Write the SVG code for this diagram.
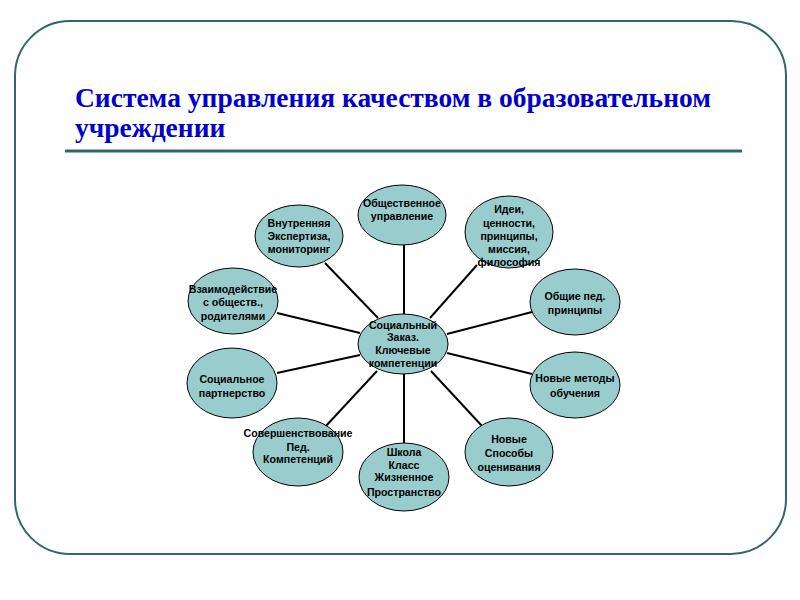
<svg xmlns="http://www.w3.org/2000/svg" width="800" height="600" viewBox="0 0 800 600">
<style>
.frame{fill:none;stroke:#336666;stroke-width:2}
.rule{stroke:#336666;stroke-width:3}
.title{font-family:"Liberation Serif","Times New Roman",serif;font-weight:bold;font-size:27.5px;fill:#0000CC}
.node ellipse{fill:#99CCCC;stroke:#000;stroke-width:1}
.node text{font-family:"Liberation Sans",Arial,sans-serif;font-weight:bold;font-size:10.6px;fill:#000;text-anchor:middle}
#connectors line{stroke:#000;stroke-width:2}
</style>
<rect width="800" height="600" fill="#fff"/>
<rect class="frame" x="15" y="21" width="771" height="533" rx="55" ry="55"/>
<text class="title" x="75" y="107">Система управления качеством в образовательном</text>
<text class="title" x="75" y="137">учреждении</text>
<line class="rule" x1="65" y1="151" x2="742" y2="151"/>
<g id="connectors">
<line x1="404" y1="245" x2="404" y2="315"/>
<line x1="325" y1="263" x2="378" y2="318"/>
<line x1="277" y1="313" x2="360" y2="333"/>
<line x1="477" y1="265" x2="430" y2="318"/>
<line x1="532" y1="312" x2="447" y2="334"/>
<line x1="277" y1="373" x2="360" y2="355"/>
<line x1="325" y1="427" x2="377" y2="371"/>
<line x1="404" y1="373" x2="404" y2="443"/>
<line x1="532" y1="374" x2="447" y2="353"/>
<line x1="482" y1="426" x2="431" y2="371"/>
</g>
<g id="n-obsh" class="node"><ellipse cx="402" cy="215" rx="44" ry="30"/>
<text x="402" y="207">Общественное</text><text x="402" y="220">управление</text></g>
<g id="n-vnutr" class="node"><ellipse cx="299" cy="236" rx="44" ry="31"/>
<text x="299" y="227">Внутренняя</text><text x="299" y="240">Экспертиза,</text><text x="299" y="253">мониторинг</text></g>
<g id="n-vzaim" class="node"><ellipse cx="233" cy="301" rx="45" ry="33"/>
<text x="233" y="293">Взаимодействие</text><text x="233" y="306">с обществ.,</text><text x="233" y="320">родителями</text></g>
<g id="n-idei" class="node"><ellipse cx="509" cy="232" rx="44" ry="36"/>
<text x="509" y="213">Идеи,</text><text x="509" y="227">ценности,</text><text x="509" y="240">принципы,</text><text x="509" y="253">миссия,</text><text x="509" y="266">философия</text></g>
<g id="n-obshped" class="node"><ellipse cx="575" cy="302" rx="45" ry="33"/>
<text x="575" y="300">Общие пед.</text><text x="575" y="314">принципы</text></g>
<g id="n-center" class="node"><ellipse cx="403" cy="344" rx="45" ry="30"/>
<text x="403" y="329">Социальный</text><text x="403" y="341">Заказ.</text><text x="403" y="354">Ключевые</text><text x="403" y="367">компетенции</text></g>
<g id="n-socpart" class="node"><ellipse cx="232" cy="383" rx="45" ry="35"/>
<text x="232" y="383">Социальное</text><text x="232" y="397">партнерство</text></g>
<g id="n-soversh" class="node"><ellipse cx="298" cy="452" rx="45" ry="34"/>
<text x="298" y="437">Совершенствование</text><text x="298" y="451">Пед.</text><text x="298" y="463">Компетенций</text></g>
<g id="n-shkola" class="node"><ellipse cx="404" cy="477" rx="45" ry="34"/>
<text x="404" y="456">Школа</text><text x="404" y="469">Класс</text><text x="404" y="481">Жизненное</text><text x="404" y="496">Пространство</text></g>
<g id="n-metody" class="node"><ellipse cx="575" cy="385" rx="45" ry="33"/>
<text x="575" y="382">Новые методы</text><text x="575" y="397">обучения</text></g>
<g id="n-sposoby" class="node"><ellipse cx="509" cy="452" rx="44" ry="34"/>
<text x="509" y="443">Новые</text><text x="509" y="457">Способы</text><text x="509" y="471">оценивания</text></g>
</svg>
